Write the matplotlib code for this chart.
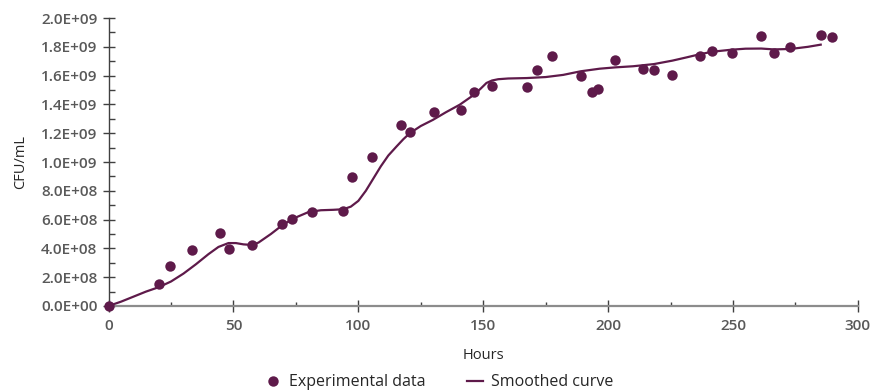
import numpy as np
import matplotlib; matplotlib.use("Agg")
import matplotlib.pyplot as plt
from matplotlib.ticker import MultipleLocator, FuncFormatter
from matplotlib.lines import Line2D

# ── Data (CFU/mL in units of 1e9)
hours_exp = [0, 20.3, 24.6, 33.5, 44.6, 48.3, 57.3, 69.3, 73.3, 81.4, 93.7, 97.3,
             105.3, 117.0, 120.6, 130.1, 141.3, 146.3, 153.4, 167.4, 171.7, 177.4,
             189.0, 193.5, 195.9, 202.7, 213.9, 218.3, 225.7, 236.6, 241.7, 249.4,
             261.3, 266.3, 273.0, 285.1, 289.5]
cfu_exp = [0, 0.151, 0.278, 0.389, 0.506, 0.398, 0.426, 0.572, 0.605, 0.652, 0.661, 0.897,
           1.036, 1.254, 1.210, 1.347, 1.363, 1.483, 1.528, 1.521, 1.641, 1.736,
           1.595, 1.488, 1.509, 1.706, 1.648, 1.639, 1.602, 1.736, 1.768, 1.759,
           1.878, 1.759, 1.796, 1.885, 1.871]

# smoothed curve, traced point by point
hours_fit = [0, 5, 10, 15, 20, 25, 30, 35, 40, 44, 48, 51, 54, 57.3, 60, 65, 70, 75,
             80, 85, 90, 94, 97, 100, 103, 106, 109, 112, 115.3, 118, 120.6, 125,
             129.9, 135, 140.6, 146.3, 149, 151.3, 153.5, 156, 160, 167.4, 175, 182,
             189, 196.6, 202.7, 210, 218.3, 225.7, 231, 236.6, 241.7, 249.4, 255,
             261.3, 266.3, 273, 280, 285.1]
cfu_fit = [0, 0.03, 0.065, 0.10, 0.13, 0.17, 0.225, 0.29, 0.36, 0.41, 0.437, 0.437,
           0.428, 0.424, 0.44, 0.50, 0.567, 0.615, 0.652, 0.665, 0.668, 0.672, 0.69,
           0.73, 0.80, 0.885, 0.97, 1.045, 1.108, 1.158, 1.200, 1.25, 1.293, 1.345, 1.398,
           1.467, 1.51, 1.549, 1.566, 1.575, 1.58, 1.583, 1.59, 1.605, 1.630, 1.648,
           1.657, 1.665, 1.68, 1.704, 1.725, 1.748, 1.766, 1.78, 1.787, 1.788, 1.782,
           1.785, 1.80, 1.815]

MAROON = "#5E1A4A"
TICKCOL = "#595959"

plt.rcParams.update({
    "font.family": ["Open Sans", "DejaVu Sans"],
    "font.size": 10,
})

fig = plt.figure(figsize=(8.71, 3.90), dpi=100)
ax = fig.add_axes([0.1246, 0.2154, 0.9850 - 0.1246, 0.9538 - 0.2154])

ax.plot(np.array(hours_fit), np.array(cfu_fit) * 1e9, color=MAROON, lw=1.6,
        solid_joinstyle="round", zorder=2)
ax.plot(np.array(hours_exp), np.array(cfu_exp) * 1e9, "o", color=MAROON, ms=7.5,
        mec="none", zorder=3, clip_on=False)

ax.set_xlim(0, 300)
ax.set_ylim(0, 2.0e9)
ax.xaxis.set_major_locator(MultipleLocator(50))
ax.xaxis.set_minor_locator(MultipleLocator(25))
ax.yaxis.set_major_locator(MultipleLocator(2e8))
ax.yaxis.set_minor_locator(MultipleLocator(1e8))
ax.yaxis.set_major_formatter(FuncFormatter(lambda v, p: f"{v:.1E}"))

for s in ["top", "right"]:
    ax.spines[s].set_visible(False)
ax.spines["left"].set_color("#404040")
ax.spines["bottom"].set_color("#8C8C8C")
ax.spines["left"].set_linewidth(1.0)
ax.spines["bottom"].set_linewidth(1.6)

ax.tick_params(axis="y", which="major", direction="inout", length=8, width=1.0,
               color="#404040", labelcolor=TICKCOL, labelsize=11, pad=4)
ax.tick_params(axis="y", which="minor", direction="in", length=4, width=1.0, color="#404040")
ax.tick_params(axis="x", which="major", direction="inout", length=9, width=1.0,
               color="#404040", labelcolor=TICKCOL, labelsize=11, pad=5)
ax.tick_params(axis="x", which="minor", direction="in", length=3, width=1.0, color="#404040")
for lbl in ax.get_xticklabels() + ax.get_yticklabels():
    lbl.set_fontweight("semibold")

ax.set_xlabel("Hours", fontsize=10.5, color="#262626", labelpad=11)
ax.set_ylabel("CFU/mL", fontsize=10.5, color="#262626", labelpad=9)

handles = [Line2D([], [], marker="o", ls="none", color=MAROON, ms=7.5, mec="none"),
           Line2D([], [], color=MAROON, lw=1.6)]
fig.legend(handles, ["Experimental data", "Smoothed curve"], loc="center",
           bbox_to_anchor=(0.504, 0.02), ncol=2, frameon=False, fontsize=11.5,
           handlelength=1.0, handletextpad=0.5, columnspacing=2.6, labelcolor="#262626")

fig.savefig("out.png", dpi=100)
